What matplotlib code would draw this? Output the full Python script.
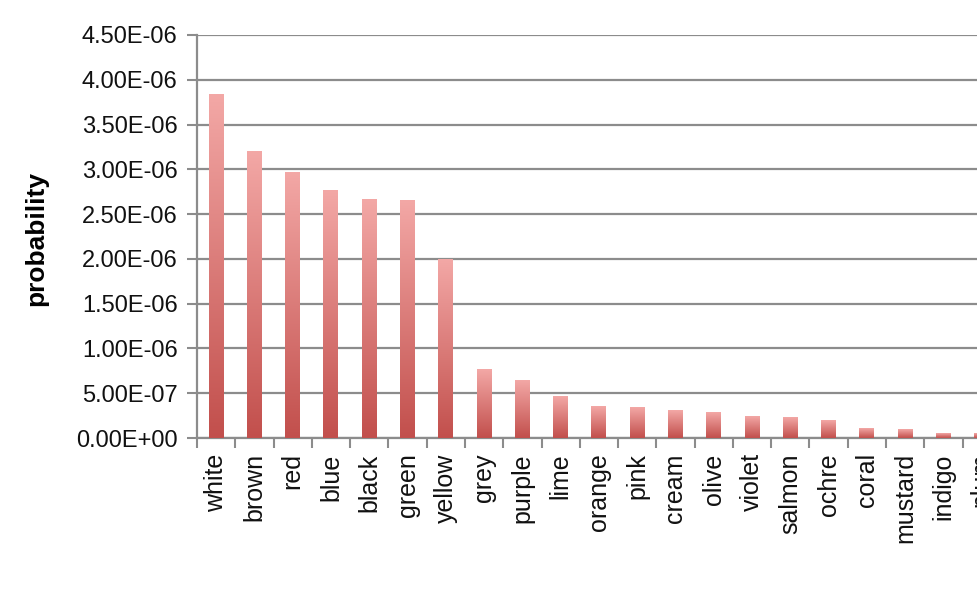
import matplotlib
matplotlib.use("Agg")
import matplotlib.pyplot as plt
import numpy as np
from matplotlib.colors import LinearSegmentedColormap
from matplotlib.ticker import FuncFormatter, MultipleLocator

colours = ["white", "brown", "red", "blue", "black", "green", "yellow", "grey",
           "purple", "lime", "orange", "pink", "cream", "olive", "violet",
           "salmon", "ochre", "coral", "mustard", "indigo", "plum"]
probability = [3.84e-06, 3.20e-06, 2.97e-06, 2.76e-06, 2.66e-06, 2.65e-06,
               1.99e-06, 7.7e-07, 6.4e-07, 4.6e-07, 3.5e-07, 3.35e-07,
               3.05e-07, 2.9e-07, 2.45e-07, 2.3e-07, 1.97e-07, 1.1e-07,
               9.0e-08, 4.8e-08, 4.5e-08]

plt.rcParams["font.family"] = ["Liberation Sans", "DejaVu Sans"]

fig = plt.figure(figsize=(9.78, 5.90), dpi=100)
ax = fig.add_axes([0.2014, 0.2576, 0.822, 0.6831])

# light pink at the top of each bar, deeper red at its base
grad = LinearSegmentedColormap.from_list("bar", ["#c24f4c", "#f3a8a6"])
ramp = np.linspace(0, 1, 256).reshape(-1, 1)
bar_w = 0.39

x = np.arange(len(colours))
for xi, v in zip(x, probability):
    ax.imshow(ramp, cmap=grad, aspect="auto", origin="lower",
              extent=[xi - bar_w / 2, xi + bar_w / 2, 0, v], zorder=3,
              interpolation="bilinear")

ax.set_xlim(-0.5, len(colours) - 0.5)
ax.set_ylim(0, 4.5e-06)

ax.yaxis.set_major_locator(MultipleLocator(5e-07))
ax.yaxis.set_major_formatter(FuncFormatter(lambda v, p: f"{v:.2E}"))
ax.grid(axis="y", color="#8c8c8c", lw=1.6, zorder=1)

ax.set_xticks(x)
ax.set_xticklabels(colours, rotation=90)
ax.set_xticks(np.arange(-0.5, len(colours), 1), minor=True)
ax.tick_params(axis="x", which="major", length=0, pad=11, labelsize=18,
               labelcolor="#111111")
ax.tick_params(axis="x", which="minor", length=7, width=1.5, color="#8c8c8c")
ax.tick_params(axis="y", length=7, width=1.5, color="#8c8c8c", labelsize=17,
               pad=7, labelcolor="#111111")

for side in ["top", "right"]:
    ax.spines[side].set_visible(False)
for side in ["left", "bottom"]:
    ax.spines[side].set_color("#8c8c8c")
    ax.spines[side].set_linewidth(1.6)

ax.set_ylabel("probability", fontsize=19, fontweight="bold")
ax.yaxis.set_label_coords(-0.185, 0.494)

fig.savefig("out.png", dpi=100)
